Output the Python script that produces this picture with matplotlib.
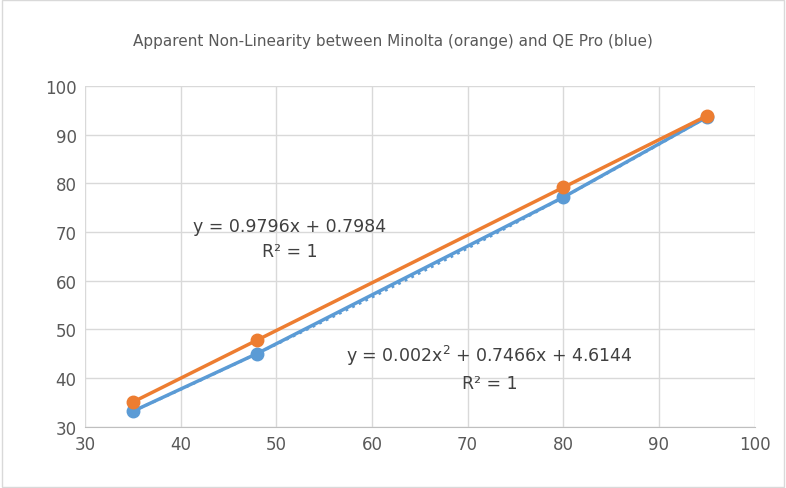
import numpy as np
import matplotlib.pyplot as plt

x = [35, 48, 80, 95]
minolta = [35.08, 47.82, 79.17, 93.86]
qepro = [33.19, 45.06, 77.15, 93.59]

orange = "#ED7D31"
blue = "#5B9BD5"

fig = plt.figure(figsize=(7.86, 4.89), dpi=100)
ax = fig.add_axes([0.108, 0.125, 0.852, 0.697])

# polynomial trendline for blue (dotted)
c = np.polyfit(x, qepro, 2)
xt = np.linspace(35, 95, 200)
ax.plot(xt, np.polyval(c, xt), color=blue, lw=2, ls=":", zorder=2)

ax.plot(x, qepro, color=blue, lw=2.5, marker="o", ms=9, zorder=3)
ax.plot(x, minolta, color=orange, lw=2.5, marker="o", ms=9, zorder=4)

ax.set_xlim(30, 100)
ax.set_ylim(30, 100)
ax.set_xticks(range(30, 101, 10))
ax.set_yticks(range(30, 101, 10))
ax.grid(True, color="#D9D9D9", lw=1)
ax.set_axisbelow(True)
for s in ["top", "right", "left"]:
    ax.spines[s].set_visible(False)
ax.spines["bottom"].set_color("#BFBFBF")
ax.tick_params(length=0, labelsize=12, colors="#595959", pad=6)

ax.text(0.306, 0.553, "y = 0.9796x + 0.7984\nR² = 1", transform=ax.transAxes,
        ha="center", va="center", fontsize=12.5, color="#404040", linespacing=1.5)
ax.text(0.604, 0.175, "y = 0.002x$^2$ + 0.7466x + 4.6144\nR² = 1", transform=ax.transAxes,
        ha="center", va="center", fontsize=12.5, color="#404040", linespacing=1.5)

fig.text(0.5, 0.905, "Apparent Non-Linearity between Minolta (orange) and QE Pro (blue)",
         ha="center", fontsize=11, color="#595959")

fig.patches.append(plt.Rectangle((0.002, 0.002), 0.996, 0.996, transform=fig.transFigure,
                                 fill=False, edgecolor="#D9D9D9", lw=1))

fig.savefig("out.png", dpi=100)
